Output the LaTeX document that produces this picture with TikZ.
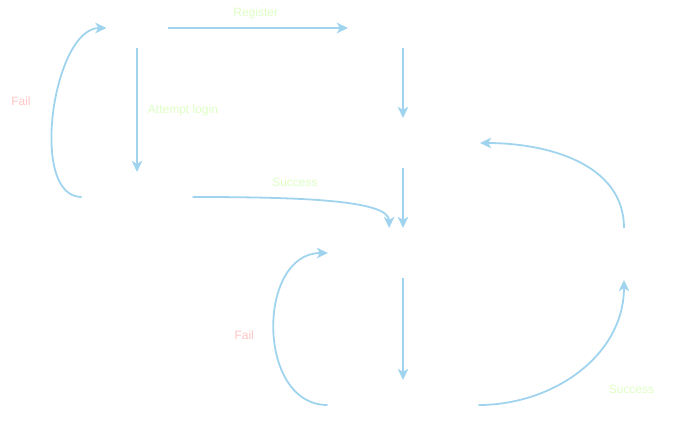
\documentclass[tikz,border=0pt]{standalone}
\usepackage{fontspec}
\setmainfont{Liberation Sans}
\usetikzlibrary{arrows.meta}
\definecolor{flowblue}{RGB}{160,212,238}
\definecolor{failred}{RGB}{255,196,196}
\definecolor{okgreen}{RGB}{222,255,196}

\begin{document}
\begin{tikzpicture}[x=0.75pt, y=0.75pt, font=\fontsize{9}{11}\selectfont,
  state/.style={inner sep=0pt, outer sep=0pt, minimum height=37.5pt},
  flow/.style={draw=flowblue, line width=1.35pt, -{Stealth[length=8.5pt,width=8pt,inset=2.5pt]}},
  okl/.style={text=okgreen},
  faill/.style={text=failred}]
  \useasboundingbox (0,0) rectangle (690,-421);
  % states (their names are not shown)
  \node[state, minimum width=45.75pt, minimum height=30pt] (home) at (137,-28) {};
  \node[state, minimum width=82.5pt, minimum height=30pt] (signup) at (403,-28) {};
  \node[state, minimum width=115.5pt] (verify) at (403,-143) {};
  \node[state, minimum width=83.25pt] (login) at (137,-197) {};
  \node[state, minimum width=112.5pt] (account) at (403,-253) {};
  \node[state, minimum width=113.25pt] (checkout) at (403,-405) {};
  \node[state, minimum width=75pt, minimum height=39pt] (payment) at (624,-254) {};
  % transitions
  \draw[flow] (home.east) -- (signup.west) node[okl, midway, shift={(-2,15)}] (lregister) {Register};
  \draw[flow] (home.south) -- (login.north) node[okl, midway, shift={(46,0)}] (lattempt) {Attempt login};
  \draw[flow] (signup.south) -- (verify.north);
  \draw[flow] (verify.south) -- (account.north);
  \draw[flow] (account.south) -- (checkout.north);
  \draw[flow] (login.west) to[out=180, in=180, looseness=0.8] node[faill, shift={(-33,11.5)}] (lfailone) {Fail} (home.west);
  \draw[flow] (login.east) .. controls +(107,0) and +(0,28) .. (account.119) node[okl, pos=.5, shift={(-36,20)}] (lsuccessone) {Success};
  \draw[flow] (checkout.west) to[out=180, in=180, looseness=1.2] node[faill, shift={(-30,-6)}] (lfailtwo) {Fail} (account.west);
  \draw[flow] (checkout.east) to[out=0, in=-90] node[okl, shift={(52,-19)}] (lsuccesstwo) {Success} (payment.south);
  \draw[flow] (payment.north) to[out=90, in=0] (verify.east);
\end{tikzpicture}
\end{document}
